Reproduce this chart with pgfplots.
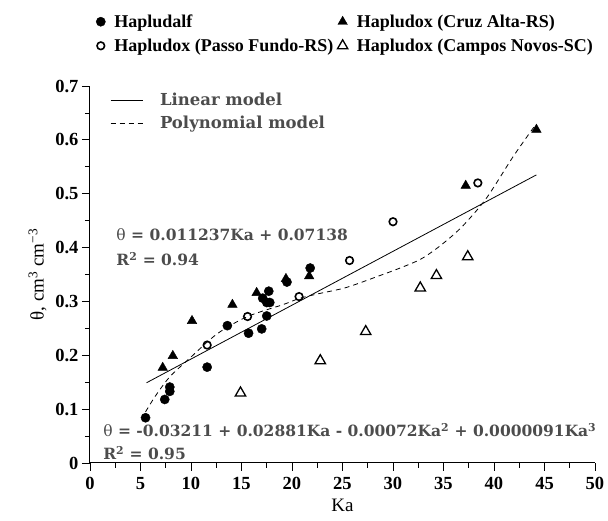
\documentclass[border=0pt]{standalone}
\usepackage{pgfplots}
\pgfplotsset{compat=1.18}
\usepackage{fontspec}
\setmainfont{Liberation Serif}
\newfontfamily\eqfont{DejaVu Serif}
\definecolor{eqgray}{gray}{0.3}
\begin{document}
\begin{tikzpicture}
\begin{axis}[
  scale only axis, width=505pt, height=377pt,
  at={(0pt,0pt)}, anchor=south west,
  xmin=0, xmax=50, ymin=0, ymax=0.7,
  axis lines*=left,
  xtick={0,5,...,50}, ytick={0,0.1,0.2,0.3,0.4,0.5,0.6,0.7},
  minor x tick num=1, minor y tick num=1,
  tick align=outside,
  major tick length=8pt, minor tick length=5pt,
  every tick/.style={black, line width=0.8pt},
  axis line style={black, line width=1pt},
  ticklabel style={font=\fontsize{18.5}{18.5}\selectfont\bfseries},
  xticklabel style={yshift=-3pt},
  /pgf/number format/assume math mode=true,
  yticklabel style={/pgf/number format/fixed, /pgf/number format/precision=1},
  xlabel={Ka}, ylabel={θ, cm\textsuperscript{3} cm\textsuperscript{−3}},
  label style={font=\fontsize{19}{19}\selectfont},
  xlabel style={yshift=-2pt},
  ylabel style={yshift=2pt},
  legend columns=2,
  legend cell align=left,
  legend style={draw=none, fill=none, at={(0,1)}, anchor=south west, xshift=3pt, yshift=29pt,
    font=\fontsize{18}{18}\selectfont\bfseries, row sep=6pt,
    /tikz/every odd column/.append style={column sep=7pt},
    /tikz/every even column/.append style={column sep=2pt}},
]
\addplot[only marks, mark=*, mark size=4.6pt, black] coordinates {
(5.5,0.084) (7.4,0.118) (7.9,0.141) (7.9,0.133) (11.6,0.178) (13.6,0.255)
(15.7,0.241) (17.0,0.249) (17.5,0.273) (17.7,0.319) (17.1,0.306) (17.5,0.298)
(17.8,0.298) (19.5,0.336) (21.8,0.362)};
\addlegendentry{Hapludalf}
\addplot[only marks, mark=triangle*, mark size=5.5pt, black] coordinates {
(7.2,0.177) (8.2,0.199) (10.1,0.264) (14.1,0.294) (16.5,0.316) (19.4,0.342)
(21.7,0.347) (37.2,0.515) (44.2,0.619)};
\addlegendentry{Hapludox (Cruz Alta-RS)}
\addplot[only marks, mark=o, mark size=3.8pt, black, mark options={line width=1.6pt, fill=white}] coordinates {
(11.6,0.219) (15.6,0.272) (20.7,0.309) (25.7,0.376) (30.0,0.448) (38.4,0.520)};
\addlegendentry{Hapludox (Passo Fundo-RS)}
\addplot[only marks, mark=triangle, mark size=6pt, black, mark options={line width=1.3pt, fill=white}] coordinates {
(14.9,0.130) (22.8,0.190) (27.3,0.244) (32.7,0.325) (34.3,0.348) (37.4,0.383)};
\addlegendentry{Hapludox (Campos Novos-SC)}
\node[anchor=west, text=eqgray, font=\eqfont\fontsize{15.5}{15.5}\selectfont, inner sep=0pt] at (axis cs:2.6,0.424)
  {θ\textbf{ = 0.011237Ka + 0.07138}};
\node[anchor=west, text=eqgray, font=\eqfont\bfseries\fontsize{15.5}{15.5}\selectfont, inner sep=0pt] at (axis cs:2.6,0.378)
  {R\textsuperscript{2} = 0.94};
\node[anchor=west, text=eqgray, font=\eqfont\fontsize{15.5}{15.5}\selectfont, inner sep=0pt] at (axis cs:1.3,0.061)
  {θ\textbf{ = -0.03211 + 0.02881Ka - 0.00072Ka\textsuperscript{2} + 0.0000091Ka\textsuperscript{3}}};
\node[anchor=west, text=eqgray, font=\eqfont\bfseries\fontsize{15.5}{15.5}\selectfont, inner sep=0pt] at (axis cs:1.3,0.018)
  {R\textsuperscript{2} = 0.95};
\end{axis}
\begin{axis}[
  scale only axis, width=505pt, height=377pt,
  at={(0pt,0pt)}, anchor=south west,
  xmin=0, xmax=50, ymin=0, ymax=0.7,
  hide axis,
  legend cell align=left,
  legend image code/.code={\draw[#1] (0pt,0pt) -- (32pt,0pt);},
  legend style={draw=none, fill=none, at={(0,1)}, anchor=north west, xshift=17pt, yshift=-3pt,
    font=\eqfont\bfseries\fontsize{16.5}{16.5}\selectfont, text=eqgray, row sep=5pt,
    /tikz/every odd column/.append style={column sep=15pt}},
]
\addplot[black, line width=0.8pt] coordinates {(5.6,0.149) (44.2,0.535)};
\addlegendentry{Linear model}
\addplot[black, line width=0.8pt, dash pattern=on 5pt off 4pt, smooth] coordinates {
(5.5,0.095) (6.5,0.125) (7.9,0.160) (9.9,0.195) (12.6,0.240) (15.6,0.272)
(19.1,0.294) (20.8,0.306) (22.8,0.315) (25.4,0.326) (28.7,0.348) (30.7,0.362)
(32.7,0.378) (34.3,0.398) (36.0,0.424) (37.3,0.448) (39.3,0.493) (41.9,0.569) (44.0,0.625)};
\addlegendentry{Polynomial model}
\end{axis}
\pgfresetboundingbox
\path[use as bounding box] (-90pt,-58pt) rectangle (518pt,463pt);
\end{tikzpicture}
\end{document}
